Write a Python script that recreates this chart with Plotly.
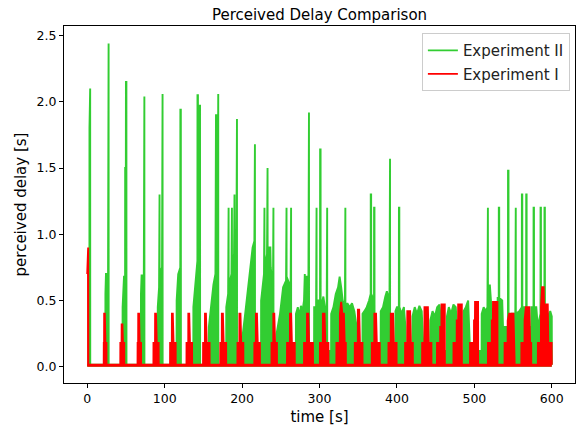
import plotly.graph_objects as go

# ---------------- data ----------------
# Experiment II (green): time [s] and perceived delay [s] outline samples
green_t = [
    0, 2.8, 2.9, 3.2, 3.8, 3.9,
    23.4, 23.5, 24.2, 26.9, 27.0, 27.6, 27.7,
    45.6, 45.7, 47.5, 48.9, 49.0, 49.9, 50.0, 50.6, 50.7,
    69.3, 69.4, 70.2, 73.1, 73.2, 73.8, 73.9,
    91.0, 91.1, 92.8, 92.9, 93.4, 93.5, 96.6, 96.7, 97.3, 97.4,
    115.4, 115.5, 117.5, 120.2, 120.3, 120.9, 121.0,
    137.0, 137.1, 140.0, 142.3, 142.4, 143.0, 143.1, 145.0, 145.1, 145.7, 145.8,
    157.0, 157.1, 160.0, 163.0, 165.6, 165.7, 166.2, 166.3, 166.9, 167.0, 168.5, 168.6, 169.2, 169.3,
    179.5, 179.6, 182.0, 182.1, 182.6, 182.7, 186.3, 186.4, 186.9, 187.0, 189.6, 189.7, 190.2, 190.3, 192.7, 192.8, 193.4, 193.5,
    200.5, 200.6, 204.0, 208.0, 212.0, 213.6, 215.9, 216.0, 216.6, 216.7,
    224.5, 224.6, 228.3, 228.4, 228.9, 229.0, 232.2, 232.3, 232.9, 233.0, 236.5, 237.0, 239.9, 240.0, 240.5, 240.6,
    244.5, 244.6, 249.0, 253.0, 256.8, 256.9, 257.4, 257.5, 262.7, 262.8, 263.3, 263.4,
    269.5, 269.6, 272.0, 274.0, 276.0, 278.0, 280.0, 281.0, 282.0, 283.5, 285.7, 285.8, 286.4, 286.5,
    293.0, 293.1, 295.6, 295.7, 296.2, 296.3, 298.0, 300.7, 300.8, 301.4, 301.5, 303.0, 305.0, 307.0,
    309.3, 309.4, 309.9, 310.0,
    315.0, 315.1, 318.0, 321.0, 324.0, 326.0, 328.0, 330.0, 332.8, 332.9, 333.4, 333.5, 336.0, 339.0,
    342.0, 345.0, 348.0, 348.5,
    355.5, 355.6, 358.0, 361.0, 364.0, 366.1, 366.2, 366.7, 366.8, 370.4, 370.5, 371.0, 371.1,
    379.0, 379.1, 382.0, 385.0, 387.0, 390.4, 390.5, 391.1, 391.2,
    398.0, 398.1, 400.0, 402.5, 402.6, 403.1, 403.2, 406.0, 409.0, 411.0, 411.5,
    420.0, 420.1, 423.0, 426.0, 429.0, 432.0, 434.5,
    443.0, 443.1, 446.0, 449.0, 452.0, 455.0, 457.5, 458.0,
    464.5, 464.6, 467.0, 470.0, 473.0, 476.0, 479.5,
    486.0, 486.1, 489.0, 492.0, 494.4,
    509.4, 509.5, 512.0, 515.0, 516.9, 517.0, 517.5, 517.6, 520.0, 522.0, 524.0,
    530.0, 530.1, 531.5, 531.6, 532.1, 532.2, 536.0, 537.0, 543.4, 543.5, 544.1, 544.2,
    548.0, 552.9, 553.0, 553.5, 553.6, 558.0, 561.3, 561.4, 561.9, 562.0, 566.9, 567.0, 567.5, 567.6,
    573.5, 573.6, 576.4, 576.5, 577.0, 577.1, 580.0, 582.0, 585.4, 585.5, 586.0, 586.1,
    590.5, 590.6, 591.1, 591.2, 595.0, 598.0, 600.0, 600.1,
]
green_v = [
    0.015, 0.015, 1.8, 2.1, 2.1, 0.015,
    0.015, 0.55, 0.7, 0.7, 2.44, 2.44, 0.015,
    0.015, 0.45, 0.68, 0.68, 1.5, 1.5, 2.15, 2.15, 0.015,
    0.015, 0.55, 0.69, 0.69, 2.04, 2.04, 0.015,
    0.015, 0.45, 0.6, 1.3, 1.3, 0.7, 0.75, 2.06, 2.06, 0.015,
    0.015, 0.5, 0.7, 0.75, 1.94, 1.94, 0.015,
    0.015, 0.45, 0.65, 0.8, 2.05, 2.05, 0.9, 0.9, 1.97, 1.97, 0.015,
    0.015, 0.3, 0.45, 0.62, 0.7, 1.5, 1.5, 1.9, 1.9, 0.9, 0.9, 2.06, 2.06, 0.015,
    0.015, 0.45, 0.55, 1.2, 1.2, 0.6, 0.7, 1.2, 1.2, 0.75, 0.85, 1.3, 1.3, 0.9, 0.95, 1.87, 1.87, 0.015,
    0.015, 0.23, 0.4, 0.6, 0.8, 0.9, 0.95, 1.68, 1.68, 0.015,
    0.015, 0.5, 0.7, 1.2, 1.2, 0.75, 0.85, 1.5, 1.5, 0.9, 0.9, 0.75, 0.6, 1.2, 1.2, 0.015,
    0.015, 0.25, 0.4, 0.6, 0.65, 1.2, 1.2, 0.68, 0.6, 1.2, 1.2, 0.015,
    0.015, 0.4, 0.45, 0.38, 0.46, 0.42, 0.5, 0.7, 0.55, 0.68, 0.68, 1.92, 1.92, 0.12,
    0.12, 0.45, 0.45, 1.2, 1.2, 0.45, 0.5, 0.5, 1.64, 1.64, 0.5, 0.48, 0.53, 0.45,
    0.45, 1.2, 1.2, 0.12,
    0.12, 0.4, 0.45, 0.55, 0.6, 0.68, 0.6, 0.5, 0.45, 1.2, 1.2, 0.45, 0.48, 0.45,
    0.48, 0.42, 0.3, 0.12,
    0.12, 0.4, 0.42, 0.45, 0.5, 0.55, 1.3, 1.3, 0.55, 0.5, 1.2, 1.2, 0.12,
    0.12, 0.42, 0.45, 0.53, 0.57, 0.5, 1.57, 1.57, 0.12,
    0.12, 0.42, 0.45, 0.45, 1.2, 1.2, 0.45, 0.4, 0.45, 0.3, 0.12,
    0.12, 0.38, 0.45, 0.4, 0.46, 0.42, 0.12,
    0.12, 0.35, 0.42, 0.38, 0.45, 0.47, 0.3, 0.12,
    0.12, 0.38, 0.45, 0.4, 0.47, 0.45, 0.12,
    0.12, 0.42, 0.45, 0.5, 0.12,
    0.12, 0.4, 0.45, 0.42, 0.45, 1.2, 1.2, 0.5, 0.62, 0.45, 0.12,
    0.12, 0.52, 0.52, 1.2, 1.2, 0.52, 0.5, 0.3, 0.3, 1.48, 1.48, 0.35,
    0.4, 0.4, 1.2, 1.2, 0.4, 0.42, 0.45, 1.3, 1.3, 0.45, 0.45, 1.3, 1.3, 0.3,
    0.3, 0.45, 0.45, 1.2, 1.2, 0.45, 0.45, 0.3, 0.4, 1.2, 1.2, 0.4,
    0.4, 1.2, 1.2, 0.4, 0.38, 0.42, 0.38, 0.015,
]

# Experiment I (red): time [s] and perceived delay [s] outline samples
red_t = [
    0, 0.3, 1.2, 1.4,
    21.3, 21.4, 21.8, 21.9, 22.7, 23.5, 24.8, 24.9,
    42.7, 42.8, 44.4, 44.5, 45.4, 46.2, 47.8, 47.9,
    65.0, 65.1, 65.8, 65.9, 66.9, 67.7, 69.5, 69.6,
    85.5, 85.6, 87.6, 87.7, 88.8, 89.8, 92.2, 92.3,
    107.0, 107.1, 109.3, 109.4, 110.5, 111.5, 114.2, 114.3,
    128.2, 128.3, 130.5, 130.6, 131.7, 132.7, 135.4, 135.5,
    149.6, 149.7, 152.0, 152.1, 153.3, 154.3, 158.0, 158.1,
    171.8, 171.9, 173.8, 173.9, 175.2, 176.2, 179.4, 179.5,
    194.0, 194.1, 196.5, 196.6, 197.9, 198.9, 201.6, 201.7,
    215.8, 215.9, 217.8, 217.9, 219.2, 220.2, 223.0, 223.1,
    238.0, 238.1, 240.3, 240.4, 241.6, 242.6, 245.0, 245.1,
    258.0, 258.1, 261.8, 261.9, 263.3, 264.3, 268.0, 268.1,
    280.0, 280.1, 283.8, 283.9, 285.5, 286.5, 291.5, 291.6,
    300.5, 300.6, 304.3, 304.4, 306.5, 307.5, 311.5, 311.6,
    321.8, 321.9, 326.3, 326.4, 328.0, 329.5, 331.5, 332.5, 334.0, 334.1,
    345.5, 345.6, 349.5, 349.6, 351.2, 352.2, 355.5, 355.6,
    367.5, 367.6, 370.8, 370.9, 373.0, 374.0, 377.8, 377.9,
    389.0, 389.1, 392.0, 392.1, 395.0, 396.0, 399.5, 399.6,
    410.5, 410.6, 413.3, 413.4, 417.0, 418.0, 420.5, 420.6,
    432.5, 432.6, 435.5, 435.6, 440.0, 441.0, 444.5, 444.6,
    451.7, 451.8, 455.8, 455.9, 457.5, 457.6, 461.8, 461.9,
    473.0, 473.1, 477.2, 477.3, 479.0, 479.1, 483.8, 483.9,
    494.4, 494.5, 499.5, 499.6, 500.8, 500.9, 504.8, 504.9,
    517.5, 517.6, 522.5, 522.6, 524.0, 524.1, 529.8, 529.9,
    539.0, 539.1, 543.0, 543.1, 545.0, 550.5, 551.5, 552.0, 552.1,
    560.7, 560.8, 564.8, 564.9, 566.5, 571.0, 572.0, 573.4, 573.5,
    582.0, 582.1, 586.0, 586.1, 587.5, 589.5, 590.0, 594.8, 595.5, 599.8, 599.9, 600.0,
]
red_v = [
    0.7, 0.9, 0.9, 0.015,
    0.015, 0.18, 0.18, 0.4, 0.4, 0.18, 0.18, 0.015,
    0.015, 0.18, 0.18, 0.32, 0.32, 0.18, 0.18, 0.015,
    0.015, 0.18, 0.18, 0.4, 0.4, 0.18, 0.18, 0.015,
    0.015, 0.18, 0.18, 0.4, 0.4, 0.18, 0.18, 0.015,
    0.015, 0.18, 0.18, 0.4, 0.4, 0.18, 0.18, 0.015,
    0.015, 0.18, 0.18, 0.4, 0.4, 0.18, 0.18, 0.015,
    0.015, 0.18, 0.18, 0.4, 0.4, 0.18, 0.18, 0.015,
    0.015, 0.18, 0.18, 0.4, 0.4, 0.18, 0.18, 0.015,
    0.015, 0.18, 0.18, 0.4, 0.4, 0.18, 0.18, 0.015,
    0.015, 0.18, 0.18, 0.4, 0.4, 0.18, 0.18, 0.015,
    0.015, 0.18, 0.18, 0.4, 0.4, 0.18, 0.18, 0.015,
    0.015, 0.18, 0.18, 0.4, 0.4, 0.18, 0.18, 0.015,
    0.015, 0.18, 0.18, 0.4, 0.4, 0.18, 0.18, 0.015,
    0.015, 0.18, 0.18, 0.4, 0.4, 0.18, 0.18, 0.015,
    0.015, 0.18, 0.18, 0.4, 0.49, 0.4, 0.4, 0.18, 0.18, 0.015,
    0.015, 0.18, 0.18, 0.43, 0.43, 0.18, 0.18, 0.015,
    0.015, 0.18, 0.18, 0.4, 0.4, 0.18, 0.18, 0.015,
    0.015, 0.18, 0.18, 0.4, 0.4, 0.18, 0.18, 0.015,
    0.015, 0.18, 0.18, 0.42, 0.42, 0.18, 0.18, 0.015,
    0.015, 0.18, 0.18, 0.45, 0.45, 0.18, 0.18, 0.015,
    0.015, 0.18, 0.18, 0.3, 0.3, 0.47, 0.47, 0.015,
    0.015, 0.18, 0.18, 0.35, 0.35, 0.47, 0.47, 0.015,
    0.015, 0.18, 0.18, 0.35, 0.35, 0.49, 0.49, 0.015,
    0.015, 0.18, 0.18, 0.35, 0.35, 0.49, 0.49, 0.015,
    0.015, 0.18, 0.18, 0.35, 0.4, 0.4, 0.18, 0.18, 0.015,
    0.015, 0.18, 0.18, 0.35, 0.45, 0.45, 0.18, 0.18, 0.015,
    0.015, 0.18, 0.18, 0.45, 0.6, 0.6, 0.47, 0.47, 0.18, 0.18, 0.015, 0.015,
]

series_names = ["Experiment II", "Experiment I"]
series_colors = ["#32CD32", "#FF0000"]
x_ticks = [0, 100, 200, 300, 400, 500, 600]
y_ticks = [0.0, 0.5, 1.0, 1.5, 2.0, 2.5]
y_tick_text = ["0.0", "0.5", "1.0", "1.5", "2.0", "2.5"]

FONT = "DejaVu Sans"

fig = go.Figure()
for (t, v), name, col in zip([(green_t, green_v), (red_t, red_v)], series_names, series_colors):
    fig.add_trace(go.Scatter(
        x=t, y=v, mode="lines", fill="tozeroy", fillcolor=col,
        line=dict(color=col, width=1.9), name=name, showlegend=False,
        hoverinfo="skip",
    ))
# legend entries (line samples)
for name, col in zip(series_names, series_colors):
    fig.add_trace(go.Scatter(
        x=[None], y=[None], mode="lines", line=dict(color=col, width=1.9),
        name=name, legendgroup=name, showlegend=True,
    ))

fig.update_layout(
    width=576, height=430,
    margin=dict(l=64, r=1, t=26, b=47),
    paper_bgcolor="white", plot_bgcolor="white",
    font=dict(family=FONT, color="black"),
    title=dict(text="Perceived Delay Comparison", x=0.5, xanchor="center",
               xref="paper", y=1 - 15 / 430, yanchor="middle", yref="container",
               font=dict(size=15, family=FONT, color="black")),
    legend=dict(x=0.99, xanchor="right", y=0.98, yanchor="top",
                bordercolor="#cccccc", borderwidth=1, bgcolor="rgba(255,255,255,0.8)",
                font=dict(size=15, family=FONT, color="#222222"),
                tracegroupgap=1, traceorder="grouped"),
    showlegend=True,
)
fig.update_xaxes(
    range=[-30, 630], tickvals=x_ticks, ticks="outside", ticklen=4, tickwidth=1,
    tickcolor="black", showline=True, linecolor="black", linewidth=1, mirror=True,
    showgrid=False, zeroline=False, tickfont=dict(size=12.5, family=FONT, color="black"),
    title=dict(text="time [s]", font=dict(size=15, family=FONT, color="black"), standoff=6),
)
fig.update_yaxes(
    range=[-0.1225, 2.5725], tickvals=y_ticks, ticktext=y_tick_text, ticks="outside",
    ticklen=4, tickwidth=1, tickcolor="black", showline=True, linecolor="black",
    linewidth=1, mirror=True, showgrid=False, zeroline=False,
    tickfont=dict(size=12.5, family=FONT, color="black"),
    title=dict(text="perceived delay [s]", font=dict(size=15, family=FONT, color="black"), standoff=6),
)

fig.write_html("out.html")
